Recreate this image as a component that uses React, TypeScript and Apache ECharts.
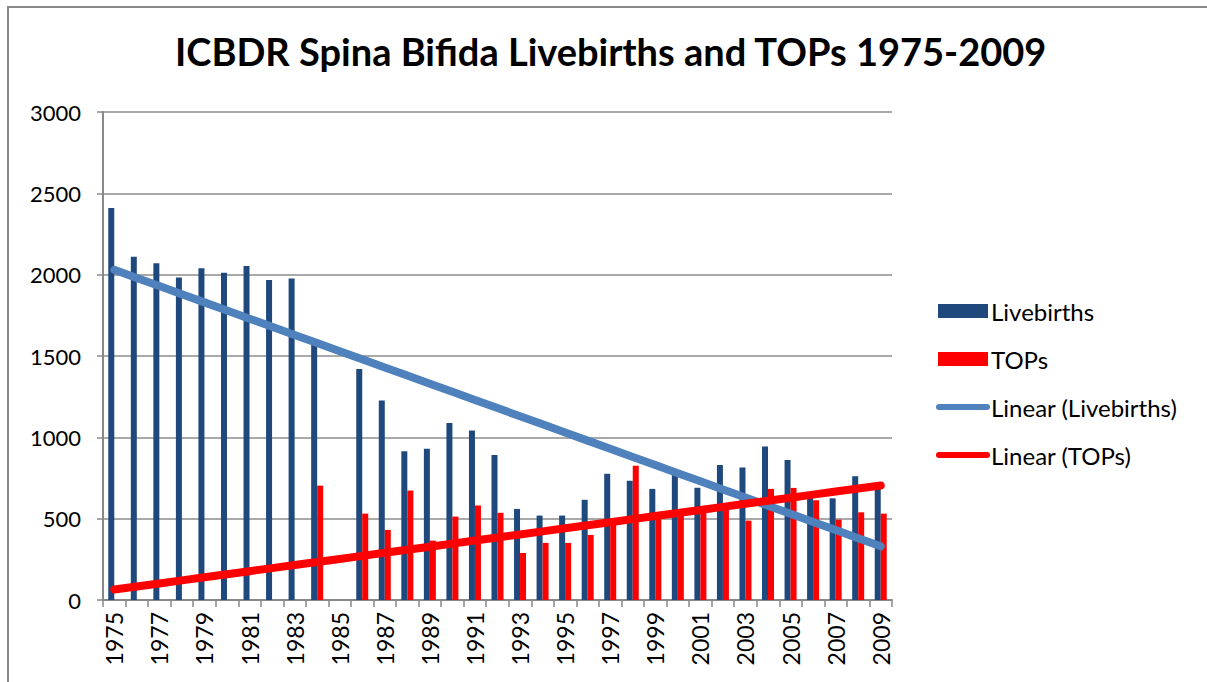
import React, { useEffect, useRef } from "react";
import * as echarts from "echarts";

const years: string[] = [];
for (let y = 1975; y <= 2009; y++) years.push(String(y));

const livebirths: (number | null)[] = [
  2410, 2110, 2070, 1982, 2039, 2012, 2053, 1967, 1977, 1568,
  null, 1420, 1227, 915, 930, 1088, 1042, 891, 560, 519,
  519, 616, 776, 733, 683, 800, 690, 830, 814, 943,
  861, 630, 625, 761, 700,
];

const tops: (number | null)[] = [
  0, 0, 0, 0, 0, 0, 0, 0, 0, 703,
  null, 531, 431, 673, 365, 513, 581, 536, 289, 351,
  351, 400, 482, 825, 505, 522, 542, 560, 488, 683,
  689, 613, 494, 539, 531,
];

function linearTrend(values: (number | null)[]): number[] {
  let n = 0, sx = 0, sy = 0, sxx = 0, sxy = 0;
  values.forEach((v, i) => {
    if (v == null) return;
    const x = i + 1;
    n++; sx += x; sy += v; sxx += x * x; sxy += x * v;
  });
  const b = (n * sxy - sx * sy) / (n * sxx - sx * sx);
  const a = (sy - b * sx) / n;
  return values.map((_, i) => a + b * (i + 1));
}

const FONT = "Lato";

export default function App() {
  const ref = useRef<HTMLDivElement>(null);
  useEffect(() => {
    if (!ref.current) return;
    const chart = echarts.init(ref.current, undefined, { renderer: "svg" });
    const trendLive = linearTrend(livebirths);
    const trendTops = linearTrend(tops);
    const rectIcon = "path://M0,0 H50 V14 H0 Z";
    const lineIcon = "path://M3,0 H51 A3,3 0 0 1 51,6 H3 A3,3 0 0 1 3,0 Z";
    chart.setOption({
      animation: false,
      backgroundColor: "#ffffff",
      textStyle: { fontFamily: FONT },
      title: {
        text: "ICBDR Spina Bifida Livebirths and TOPs 1975-2009",
        left: 170,
        top: 27,
        textStyle: { fontFamily: FONT, fontSize: 38, fontWeight: "bold", color: "#000" },
      },
      legend: {
        orient: "vertical",
        left: 931,
        top: 294,
        itemWidth: 54,
        itemHeight: 14,
        itemGap: 24,
        symbolKeepAspect: true,
        textStyle: { fontFamily: FONT, fontSize: 24, color: "#000", padding: [0, 0, 0, -4] },
        data: [
          { name: "Livebirths", icon: rectIcon },
          { name: "TOPs", icon: rectIcon },
          { name: "Linear (Livebirths)", icon: lineIcon },
          { name: "Linear (TOPs)", icon: lineIcon },
        ],
      },
      grid: { left: 103, right: 315, top: 112, bottom: 82, containLabel: false },
      xAxis: {
        type: "category",
        data: years,
        boundaryGap: true,
        axisLine: { lineStyle: { color: "#888", width: 2 } },
        axisTick: { show: true, interval: 0, length: 7, lineStyle: { color: "#888", width: 1.5 } },
        axisLabel: { interval: 1, rotate: 90, fontSize: 23, color: "#000", fontFamily: FONT, margin: 12 },
      },
      yAxis: {
        type: "value",
        min: 0,
        max: 3000,
        interval: 500,
        axisLine: { show: true, lineStyle: { color: "#888", width: 2 } },
        axisTick: { show: true, length: 6, lineStyle: { color: "#888", width: 1.5 } },
        axisLabel: {
          fontSize: 22,
          color: "#000",
          fontFamily: FONT,
          margin: 22,
          formatter: (v: number) => String(v),
        },
        splitLine: { lineStyle: { color: "#8c8c8c", width: 1.5 } },
      },
      series: [
        {
          name: "Livebirths",
          type: "bar",
          data: livebirths,
          barWidth: 6,
          barGap: "0%",
          itemStyle: { color: "#1F497D" },
        },
        {
          name: "TOPs",
          type: "bar",
          data: tops,
          barWidth: 6,
          barGap: "0%",
          itemStyle: { color: "#FF0000" },
        },
        {
          name: "Linear (Livebirths)",
          type: "line",
          data: trendLive,
          symbol: "none",
          lineStyle: { color: "#4F81BD", width: 8, cap: "round" },
          itemStyle: { color: "#4F81BD" },
        },
        {
          name: "Linear (TOPs)",
          type: "line",
          data: trendTops,
          symbol: "none",
          lineStyle: { color: "#FF0000", width: 8, cap: "round" },
          itemStyle: { color: "#FF0000" },
        },
      ],
      graphic: [
        { type: "line", shape: { x1: 7, y1: 7, x2: 1207, y2: 7 }, style: { stroke: "#888", lineWidth: 2 } },
        { type: "line", shape: { x1: 8, y1: 6, x2: 8, y2: 682 }, style: { stroke: "#888", lineWidth: 2 } },
      ],
    });
    return () => chart.dispose();
  }, []);
  return (
    <div
      ref={ref}
      style={{ position: "absolute", left: 0, top: 0, width: 1207, height: 682 }}
    />
  );
}
